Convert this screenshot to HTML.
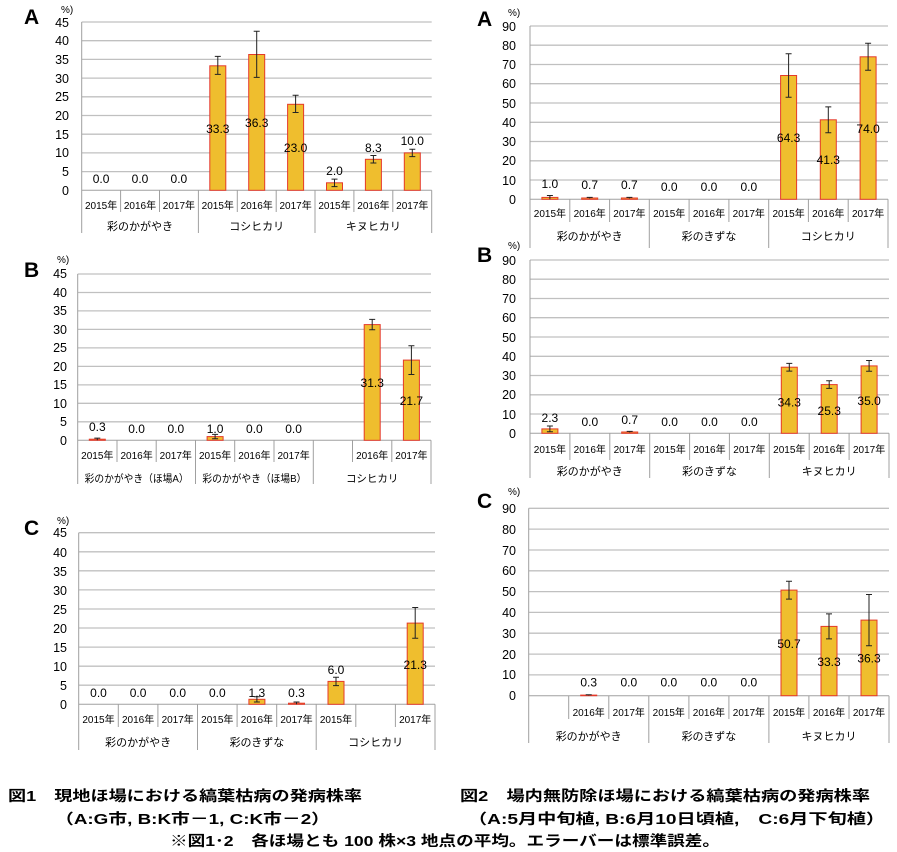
<!DOCTYPE html>
<html><head><meta charset="utf-8"><style>
html,body{margin:0;padding:0;background:#fff}
svg{display:block}
text{font-family:"Liberation Sans","Noto Sans CJK JP",sans-serif;fill:#000}
.g{stroke:#c0c0c0;stroke-width:1.3}
.ax{stroke:#a0a0a0;stroke-width:1;fill:none}
.b{fill:#efbe2e;stroke:#e53a2a;stroke-width:1}
.e{stroke:#222;stroke-width:1;fill:none}
.t{font-size:12.5px;text-anchor:end}
.d{font-size:12px;text-anchor:middle}
.y{font-size:10px;text-anchor:middle}
.gr{font-size:11px;text-anchor:middle}
.L{font-size:21px;font-weight:bold}
.p{font-size:10px}
.c{font-size:14.5px;font-weight:bold}
</style></head><body>
<svg width="897" height="852" viewBox="0 0 897 852" xmlns="http://www.w3.org/2000/svg">

<!-- ===== Left A ===== -->
<text class="L" x="24" y="24">A</text><text class="p" x="61" y="13">%)</text>
<g class="g"><line x1="81.7" x2="431.7" y1="171.6" y2="171.6"/><line x1="81.7" x2="431.7" y1="152.9" y2="152.9"/><line x1="81.7" x2="431.7" y1="134.2" y2="134.2"/><line x1="81.7" x2="431.7" y1="115.5" y2="115.5"/><line x1="81.7" x2="431.7" y1="96.8" y2="96.8"/><line x1="81.7" x2="431.7" y1="78.1" y2="78.1"/><line x1="81.7" x2="431.7" y1="59.4" y2="59.4"/><line x1="81.7" x2="431.7" y1="40.7" y2="40.7"/><line x1="81.7" x2="431.7" y1="22" y2="22"/></g>
<g class="t"><text x="69" y="195">0</text><text x="69" y="176">5</text><text x="69" y="157">10</text><text x="69" y="139">15</text><text x="69" y="120">20</text><text x="69" y="101">25</text><text x="69" y="83">30</text><text x="69" y="64">35</text><text x="69" y="45">40</text><text x="69" y="27">45</text></g>
<path class="ax" d="M81.7 22V233M81.7 190.3H431.7M431.7 190.3V233M120.6 190.3V212M159.5 190.3V212M198.4 190.3V233M237.3 190.3V212M276.2 190.3V212M315 190.3V233M353.9 190.3V212M392.8 190.3V212"/>
<rect class="b" x="209.8" y="65.8" width="16" height="124.5"/><rect class="b" x="248.7" y="54.5" width="16" height="135.8"/><rect class="b" x="287.6" y="104.3" width="16" height="86"/><rect class="b" x="326.5" y="182.8" width="16" height="7.5"/><rect class="b" x="365.4" y="159.3" width="16" height="31"/><rect class="b" x="404.3" y="152.9" width="16" height="37.4"/>
<path class="e" d="M217.8 56.4V74.4M214.8 56.4h6M214.8 74.4h6M256.7 31.3V77.4M253.7 31.3h6M253.7 77.4h6M295.6 95.3V112.5M292.6 95.3h6M292.6 112.5h6M334.5 179.1V186.6M331.5 179.1h6M331.5 186.6h6M373.4 155.5V163M370.4 155.5h6M370.4 163h6M412.3 149.2V156.6M409.3 149.2h6M409.3 156.6h6"/>
<g class="d"><text x="101.1" y="183">0.0</text><text x="140" y="183">0.0</text><text x="178.9" y="183">0.0</text><text x="217.8" y="133">33.3</text><text x="256.7" y="127">36.3</text><text x="295.6" y="152">23.0</text><text x="334.5" y="175">2.0</text><text x="373.4" y="152">8.3</text><text x="412.3" y="145">10.0</text></g>
<g class="y"><text x="101.1" y="209">2015年</text><text x="140" y="209">2016年</text><text x="178.9" y="209">2017年</text><text x="217.8" y="209">2015年</text><text x="256.7" y="209">2016年</text><text x="295.6" y="209">2017年</text><text x="334.5" y="209">2015年</text><text x="373.4" y="209">2016年</text><text x="412.3" y="209">2017年</text></g>
<g class="gr"><text x="140" y="230">彩のかがやき</text><text x="256.7" y="230">コシヒカリ</text><text x="373.4" y="230">キヌヒカリ</text></g>

<!-- ===== Left B ===== -->
<text class="L" x="24" y="277">B</text><text class="p" x="57" y="263">%)</text>
<g class="g"><line x1="77.7" x2="431" y1="421.8" y2="421.8"/><line x1="77.7" x2="431" y1="403.3" y2="403.3"/><line x1="77.7" x2="431" y1="384.9" y2="384.9"/><line x1="77.7" x2="431" y1="366.4" y2="366.4"/><line x1="77.7" x2="431" y1="347.9" y2="347.9"/><line x1="77.7" x2="431" y1="329.4" y2="329.4"/><line x1="77.7" x2="431" y1="310.9" y2="310.9"/><line x1="77.7" x2="431" y1="292.5" y2="292.5"/><line x1="77.7" x2="431" y1="274" y2="274"/></g>
<g class="t"><text x="67" y="445">0</text><text x="67" y="426">5</text><text x="67" y="408">10</text><text x="67" y="389">15</text><text x="67" y="371">20</text><text x="67" y="352">25</text><text x="67" y="334">30</text><text x="67" y="315">35</text><text x="67" y="297">40</text><text x="67" y="278">45</text></g>
<path class="ax" d="M77.7 274V484M77.7 440.3H431M431 440.3V484M117 440.3V462M156.2 440.3V462M195.5 440.3V484M234.7 440.3V462M274 440.3V462M313.3 440.3V484M352.5 440.3V462M391.8 440.3V462"/>
<rect class="b" x="89.3" y="439.2" width="16" height="1.1"/><rect class="b" x="207.1" y="436.6" width="16" height="3.7"/><rect class="b" x="364.2" y="324.6" width="16" height="115.7"/><rect class="b" x="403.4" y="360.1" width="16" height="80.2"/>
<path class="e" d="M97.3 438.1V440.3M94.3 438.1h6M215.1 434.4V438.8M212.1 434.4h6M212.1 438.8h6M372.2 319.4V329.8M369.2 319.4h6M369.2 329.8h6M411.4 345.7V374.5M408.4 345.7h6M408.4 374.5h6"/>
<g class="d"><text x="97.3" y="431">0.3</text><text x="136.6" y="433">0.0</text><text x="175.8" y="433">0.0</text><text x="215.1" y="433">1.0</text><text x="254.4" y="433">0.0</text><text x="293.6" y="433">0.0</text><text x="372.2" y="387">31.3</text><text x="411.4" y="405">21.7</text></g>
<g class="y"><text x="97.3" y="459">2015年</text><text x="136.6" y="459">2016年</text><text x="175.8" y="459">2017年</text><text x="215.1" y="459">2015年</text><text x="254.4" y="459">2016年</text><text x="293.6" y="459">2017年</text><text x="372.2" y="459">2016年</text><text x="411.4" y="459">2017年</text></g>
<g class="gr" style="font-size:10.5px"><text x="136.6" y="482" textLength="104" lengthAdjust="spacingAndGlyphs">彩のかがやき（ほ場A）</text><text x="254.4" y="482" textLength="104" lengthAdjust="spacingAndGlyphs">彩のかがやき（ほ場B）</text><text x="372.2" y="482">コシヒカリ</text></g>

<!-- ===== Left C ===== -->
<text class="L" x="24" y="535">C</text><text class="p" x="57" y="524">%)</text>
<g class="g"><line x1="78.7" x2="435" y1="685.2" y2="685.2"/><line x1="78.7" x2="435" y1="666.2" y2="666.2"/><line x1="78.7" x2="435" y1="647.1" y2="647.1"/><line x1="78.7" x2="435" y1="628" y2="628"/><line x1="78.7" x2="435" y1="609" y2="609"/><line x1="78.7" x2="435" y1="589.9" y2="589.9"/><line x1="78.7" x2="435" y1="570.8" y2="570.8"/><line x1="78.7" x2="435" y1="551.8" y2="551.8"/><line x1="78.7" x2="435" y1="532.7" y2="532.7"/></g>
<g class="t"><text x="67" y="709">0</text><text x="67" y="690">5</text><text x="67" y="671">10</text><text x="67" y="652">15</text><text x="67" y="633">20</text><text x="67" y="614">25</text><text x="67" y="595">30</text><text x="67" y="576">35</text><text x="67" y="557">40</text><text x="67" y="537">45</text></g>
<path class="ax" d="M78.7 532.7V750M78.7 704.3H435M435 704.3V750M118.3 704.3V727M157.9 704.3V727M197.5 704.3V750M237.1 704.3V727M276.7 704.3V727M316.2 704.3V750M355.8 704.3V727M395.4 704.3V727"/>
<rect class="b" x="248.9" y="699.3" width="16" height="5"/><rect class="b" x="288.5" y="703.2" width="16" height="1.1"/><rect class="b" x="328" y="681.4" width="16" height="22.9"/><rect class="b" x="407.2" y="623.1" width="16" height="81.2"/>
<path class="e" d="M256.9 696.7V702M253.9 696.7h6M253.9 702h6M296.5 702V704.3M293.5 702h6M336 677.2V685.6M333 677.2h6M333 685.6h6M415.2 607.5V638.3M412.2 607.5h6M412.2 638.3h6"/>
<g class="d"><text x="98.5" y="697">0.0</text><text x="138.1" y="697">0.0</text><text x="177.7" y="697">0.0</text><text x="217.3" y="697">0.0</text><text x="256.9" y="697">1.3</text><text x="296.5" y="697">0.3</text><text x="336" y="674">6.0</text><text x="415.2" y="669">21.3</text></g>
<g class="y"><text x="98.5" y="723">2015年</text><text x="138.1" y="723">2016年</text><text x="177.7" y="723">2017年</text><text x="217.3" y="723">2015年</text><text x="256.9" y="723">2016年</text><text x="296.5" y="723">2017年</text><text x="336" y="723">2015年</text><text x="415.2" y="723">2017年</text></g>
<g class="gr"><text x="138.1" y="746">彩のかがやき</text><text x="256.9" y="746">彩のきずな</text><text x="375.6" y="746">コシヒカリ</text></g>

<!-- ===== Right A ===== -->
<text class="L" x="477" y="26">A</text><text class="p" x="508" y="16">%)</text>
<g class="g"><line x1="530" x2="888" y1="180" y2="180"/><line x1="530" x2="888" y1="160.8" y2="160.8"/><line x1="530" x2="888" y1="141.5" y2="141.5"/><line x1="530" x2="888" y1="122.3" y2="122.3"/><line x1="530" x2="888" y1="103" y2="103"/><line x1="530" x2="888" y1="83.7" y2="83.7"/><line x1="530" x2="888" y1="64.5" y2="64.5"/><line x1="530" x2="888" y1="45.2" y2="45.2"/><line x1="530" x2="888" y1="26" y2="26"/></g>
<g class="t"><text x="516" y="204">0</text><text x="516" y="185">10</text><text x="516" y="165">20</text><text x="516" y="146">30</text><text x="516" y="127">40</text><text x="516" y="108">50</text><text x="516" y="88">60</text><text x="516" y="69">70</text><text x="516" y="50">80</text><text x="516" y="31">90</text></g>
<path class="ax" d="M530 26V248M530 199.3H888M888 199.3V248M569.8 199.3V222M609.6 199.3V222M649.3 199.3V248M689.1 199.3V222M728.9 199.3V222M768.7 199.3V248M808.4 199.3V222M848.2 199.3V222"/>
<rect class="b" x="541.9" y="197.4" width="16" height="1.9"/><rect class="b" x="581.7" y="198" width="16" height="1.3"/><rect class="b" x="621.4" y="198" width="16" height="1.3"/><rect class="b" x="780.6" y="75.5" width="16" height="123.8"/><rect class="b" x="820.3" y="119.8" width="16" height="79.5"/><rect class="b" x="860.1" y="56.8" width="16" height="142.5"/>
<path class="e" d="M549.9 195.5V199.3M546.9 195.5h6M589.7 197.4V198.5M586.7 197.4h6M629.4 197.4V198.5M626.4 197.4h6M788.6 53.7V97.2M785.6 53.7h6M785.6 97.2h6M828.3 106.9V132.7M825.3 106.9h6M825.3 132.7h6M868.1 43.3V70.3M865.1 43.3h6M865.1 70.3h6"/>
<g class="d"><text x="549.9" y="188">1.0</text><text x="589.7" y="189">0.7</text><text x="629.4" y="189">0.7</text><text x="669.2" y="191">0.0</text><text x="709" y="191">0.0</text><text x="748.8" y="191">0.0</text><text x="788.6" y="142">64.3</text><text x="828.3" y="164">41.3</text><text x="868.1" y="133">74.0</text></g>
<g class="y"><text x="549.9" y="217">2015年</text><text x="589.7" y="217">2016年</text><text x="629.4" y="217">2017年</text><text x="669.2" y="217">2015年</text><text x="709" y="217">2016年</text><text x="748.8" y="217">2017年</text><text x="788.6" y="217">2015年</text><text x="828.3" y="217">2016年</text><text x="868.1" y="217">2017年</text></g>
<g class="gr"><text x="589.7" y="240">彩のかがやき</text><text x="709" y="240">彩のきずな</text><text x="828.3" y="240">コシヒカリ</text></g>

<!-- ===== Right B ===== -->
<text class="L" x="477" y="262">B</text><text class="p" x="508" y="249">%)</text>
<g class="g"><line x1="530" x2="889" y1="414" y2="414"/><line x1="530" x2="889" y1="394.8" y2="394.8"/><line x1="530" x2="889" y1="375.5" y2="375.5"/><line x1="530" x2="889" y1="356.3" y2="356.3"/><line x1="530" x2="889" y1="337" y2="337"/><line x1="530" x2="889" y1="317.7" y2="317.7"/><line x1="530" x2="889" y1="298.5" y2="298.5"/><line x1="530" x2="889" y1="279.2" y2="279.2"/><line x1="530" x2="889" y1="260" y2="260"/></g>
<g class="t"><text x="516" y="438">0</text><text x="516" y="419">10</text><text x="516" y="399">20</text><text x="516" y="380">30</text><text x="516" y="361">40</text><text x="516" y="342">50</text><text x="516" y="322">60</text><text x="516" y="303">70</text><text x="516" y="284">80</text><text x="516" y="265">90</text></g>
<path class="ax" d="M530 260V478M530 433.3H889M889 433.3V478M569.9 433.3V460M609.8 433.3V460M649.7 433.3V478M689.6 433.3V460M729.4 433.3V460M769.3 433.3V478M809.2 433.3V460M849.1 433.3V460"/>
<rect class="b" x="541.9" y="428.9" width="16" height="4.4"/><rect class="b" x="621.7" y="432" width="16" height="1.3"/><rect class="b" x="781.3" y="367.2" width="16" height="66.1"/><rect class="b" x="821.2" y="384.6" width="16" height="48.7"/><rect class="b" x="861.1" y="365.9" width="16" height="67.4"/>
<path class="e" d="M549.9 426V431.8M546.9 426h6M546.9 431.8h6M629.7 431.4V432.5M626.7 431.4h6M789.3 363.4V371.1M786.3 363.4h6M786.3 371.1h6M829.2 380.7V388.4M826.2 380.7h6M826.2 388.4h6M869.1 360.5V371.3M866.1 360.5h6M866.1 371.3h6"/>
<g class="d"><text x="549.9" y="422">2.3</text><text x="589.8" y="426">0.0</text><text x="629.7" y="424">0.7</text><text x="669.6" y="426">0.0</text><text x="709.5" y="426">0.0</text><text x="749.4" y="426">0.0</text><text x="789.3" y="406.5">34.3</text><text x="829.2" y="415">25.3</text><text x="869.1" y="405">35.0</text></g>
<g class="y"><text x="549.9" y="453">2015年</text><text x="589.8" y="453">2016年</text><text x="629.7" y="453">2017年</text><text x="669.6" y="453">2015年</text><text x="709.5" y="453">2016年</text><text x="749.4" y="453">2017年</text><text x="789.3" y="453">2015年</text><text x="829.2" y="453">2016年</text><text x="869.1" y="453">2017年</text></g>
<g class="gr"><text x="589.8" y="475">彩のかがやき</text><text x="709.5" y="475">彩のきずな</text><text x="829.2" y="475">キヌヒカリ</text></g>

<!-- ===== Right C ===== -->
<text class="L" x="477" y="508">C</text><text class="p" x="508" y="495">%)</text>
<g class="g"><line x1="528.7" x2="889" y1="674.9" y2="674.9"/><line x1="528.7" x2="889" y1="654.1" y2="654.1"/><line x1="528.7" x2="889" y1="633.2" y2="633.2"/><line x1="528.7" x2="889" y1="612.4" y2="612.4"/><line x1="528.7" x2="889" y1="591.6" y2="591.6"/><line x1="528.7" x2="889" y1="570.8" y2="570.8"/><line x1="528.7" x2="889" y1="550" y2="550"/><line x1="528.7" x2="889" y1="529.1" y2="529.1"/><line x1="528.7" x2="889" y1="508.3" y2="508.3"/></g>
<g class="t"><text x="516" y="700">0</text><text x="516" y="679">10</text><text x="516" y="659">20</text><text x="516" y="638">30</text><text x="516" y="617">40</text><text x="516" y="596">50</text><text x="516" y="575">60</text><text x="516" y="555">70</text><text x="516" y="534">80</text><text x="516" y="513">90</text></g>
<path class="ax" d="M528.7 508.3V743M528.7 695.7H889M889 695.7V743M568.7 695.7V719M608.8 695.7V719M648.8 695.7V743M688.9 695.7V719M728.9 695.7V719M768.9 695.7V743M808.9 695.7V719M849 695.7V719"/>
<rect class="b" x="580.7" y="695.1" width="16" height="0.6"/><rect class="b" x="781" y="590.1" width="16" height="105.6"/><rect class="b" x="821" y="626.4" width="16" height="69.3"/><rect class="b" x="861" y="620.1" width="16" height="75.6"/>
<path class="e" d="M588.7 694.7V695.5M585.7 694.7h6M789 581.2V599.1M786 581.2h6M786 599.1h6M829 613.9V638.9M826 613.9h6M826 638.9h6M869 594.5V645.7M866 594.5h6M866 645.7h6"/>
<g class="d"><text x="588.7" y="686.5">0.3</text><text x="628.8" y="686.5">0.0</text><text x="668.8" y="686.5">0.0</text><text x="708.9" y="686.5">0.0</text><text x="748.9" y="686.5">0.0</text><text x="789" y="648">50.7</text><text x="829" y="666">33.3</text><text x="869" y="662.5">36.3</text></g>
<g class="y"><text x="588.7" y="716">2016年</text><text x="628.8" y="716">2017年</text><text x="668.8" y="716">2015年</text><text x="708.9" y="716">2016年</text><text x="748.9" y="716">2017年</text><text x="789" y="716">2015年</text><text x="829" y="716">2016年</text><text x="869" y="716">2017年</text></g>
<g class="gr"><text x="588.7" y="740">彩のかがやき</text><text x="708.9" y="740">彩のきずな</text><text x="829" y="740">キヌヒカリ</text></g>

<!-- ===== Captions ===== -->
<text class="c" x="8" y="801" textLength="354" lengthAdjust="spacingAndGlyphs">図1　現地ほ場における縞葉枯病の発病株率</text>
<text class="c" x="55" y="824" textLength="275" lengthAdjust="spacingAndGlyphs">（A:G市, B:K市－1, C:K市－2）</text>
<text class="c" x="460" y="801" textLength="410" lengthAdjust="spacingAndGlyphs">図2　場内無防除ほ場における縞葉枯病の発病株率</text>
<text class="c" x="468" y="824" textLength="417" lengthAdjust="spacingAndGlyphs">（A:5月中旬植, B:6月10日頃植,　C:6月下旬植）</text>
<text class="c" x="170" y="846" textLength="550" lengthAdjust="spacingAndGlyphs">※図1･2　各ほ場とも 100 株×3 地点の平均。エラーバーは標準誤差。</text>
</svg>
</body></html>
